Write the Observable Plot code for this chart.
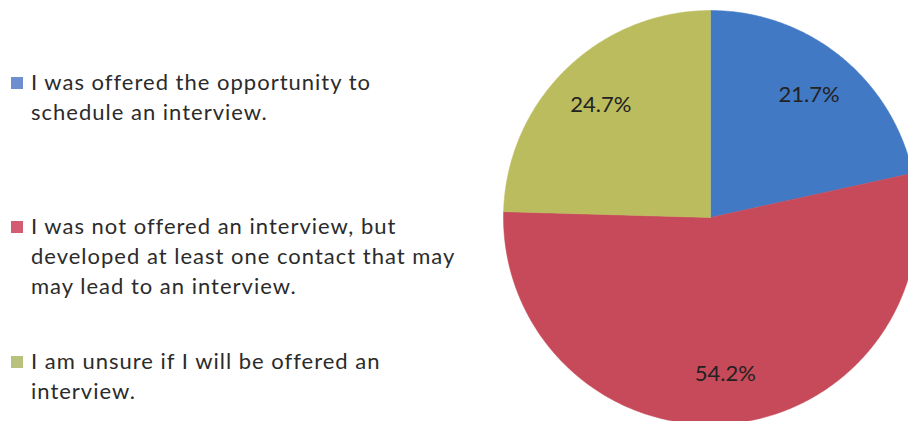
<!DOCTYPE html>
<html>
<head>
<meta charset="utf-8">
<script src="https://cdn.jsdelivr.net/npm/d3@7"></script>
<script src="https://cdn.jsdelivr.net/npm/@observablehq/plot@0.6"></script>
<style>
  html, body { margin: 0; padding: 0; background: #fff; }
  #wrap { position: relative; width: 908px; height: 421px; overflow: hidden; font-family: Lato, "Open Sans", sans-serif; }
  #legend { position: absolute; left: 0; top: 0; width: 490px; height: 421px; }
  .item { position: absolute; left: 31px; width: 470px; font-size: 22px; line-height: 30px; letter-spacing: 1px; color: #2b2b2b; }
  .sw { position: absolute; left: -20px; top: 10px; width: 12px; height: 12px; }
  #chart { position: absolute; left: 490px; top: 0; }
</style>
</head>
<body>
<div id="wrap">
  <div id="legend"></div>
  <div id="chart"></div>
</div>
<script>
const categories = [
  "I was offered the opportunity to<br>schedule an interview.",
  "I was not offered an interview, but<br>developed at least one contact that may<br>may lead to an interview.",
  "I am unsure if I will be offered an<br>interview."
];
const keys = ["offered", "contact", "unsure"];
const values = [21.7, 54.2, 24.7];
const colors = ["#4179c4", "#c64a59", "#bbbc5e"];
const legendColors = ["#6d8fd0", "#d25d72", "#b8c27c"];

// legend (HTML, left of the plot)
const legendTops = [67, 211, 346];
const legend = document.getElementById("legend");
categories.forEach((c, i) => {
  const d = document.createElement("div");
  d.className = "item";
  d.style.top = legendTops[i] + "px";
  d.innerHTML = `<span class="sw" style="background:${legendColors[i]}"></span>${c}`;
  legend.appendChild(d);
});

// pie geometry
const W = 418, H = 421, cx = 220, cy = 217, R = 207;
const arcs = d3.pie().sort(null).value(d => d)(values);
const rows = [];
arcs.forEach((a, i) => {
  rows.push({key: keys[i], x: 0, y: 0});
  const n = Math.max(2, Math.ceil((a.endAngle - a.startAngle) / (Math.PI / 360)));
  for (let k = 0; k <= n; k++) {
    const t = a.startAngle + (a.endAngle - a.startAngle) * k / n;
    rows.push({key: keys[i], x: Math.sin(t), y: Math.cos(t)});
  }
  rows.push({key: keys[i], x: 0, y: 0});
});
const labels = arcs.map((a, i) => {
  const m = (a.startAngle + a.endAngle) / 2;
  return {x: 0.76 * Math.sin(m), y: 0.76 * Math.cos(m), text: values[i].toFixed(1) + "%"};
});

const chart = Plot.plot({
  width: W,
  height: H,
  margin: 0,
  x: {domain: [-cx / R, (W - cx) / R], axis: null},
  y: {domain: [-(H - cy) / R, cy / R], axis: null},
  color: {domain: keys, range: colors},
  style: {fontFamily: "Lato, 'Open Sans', sans-serif", background: "transparent"},
  marks: [
    Plot.line(rows, {x: "x", y: "y", z: "key", fill: "key", stroke: "key", strokeWidth: 0.5, curve: "linear"}),
    Plot.text(labels, {x: "x", y: "y", text: "text", fontSize: 22, fill: "#222"})
  ]
});
document.getElementById("chart").appendChild(chart);
</script>
</body>
</html>
